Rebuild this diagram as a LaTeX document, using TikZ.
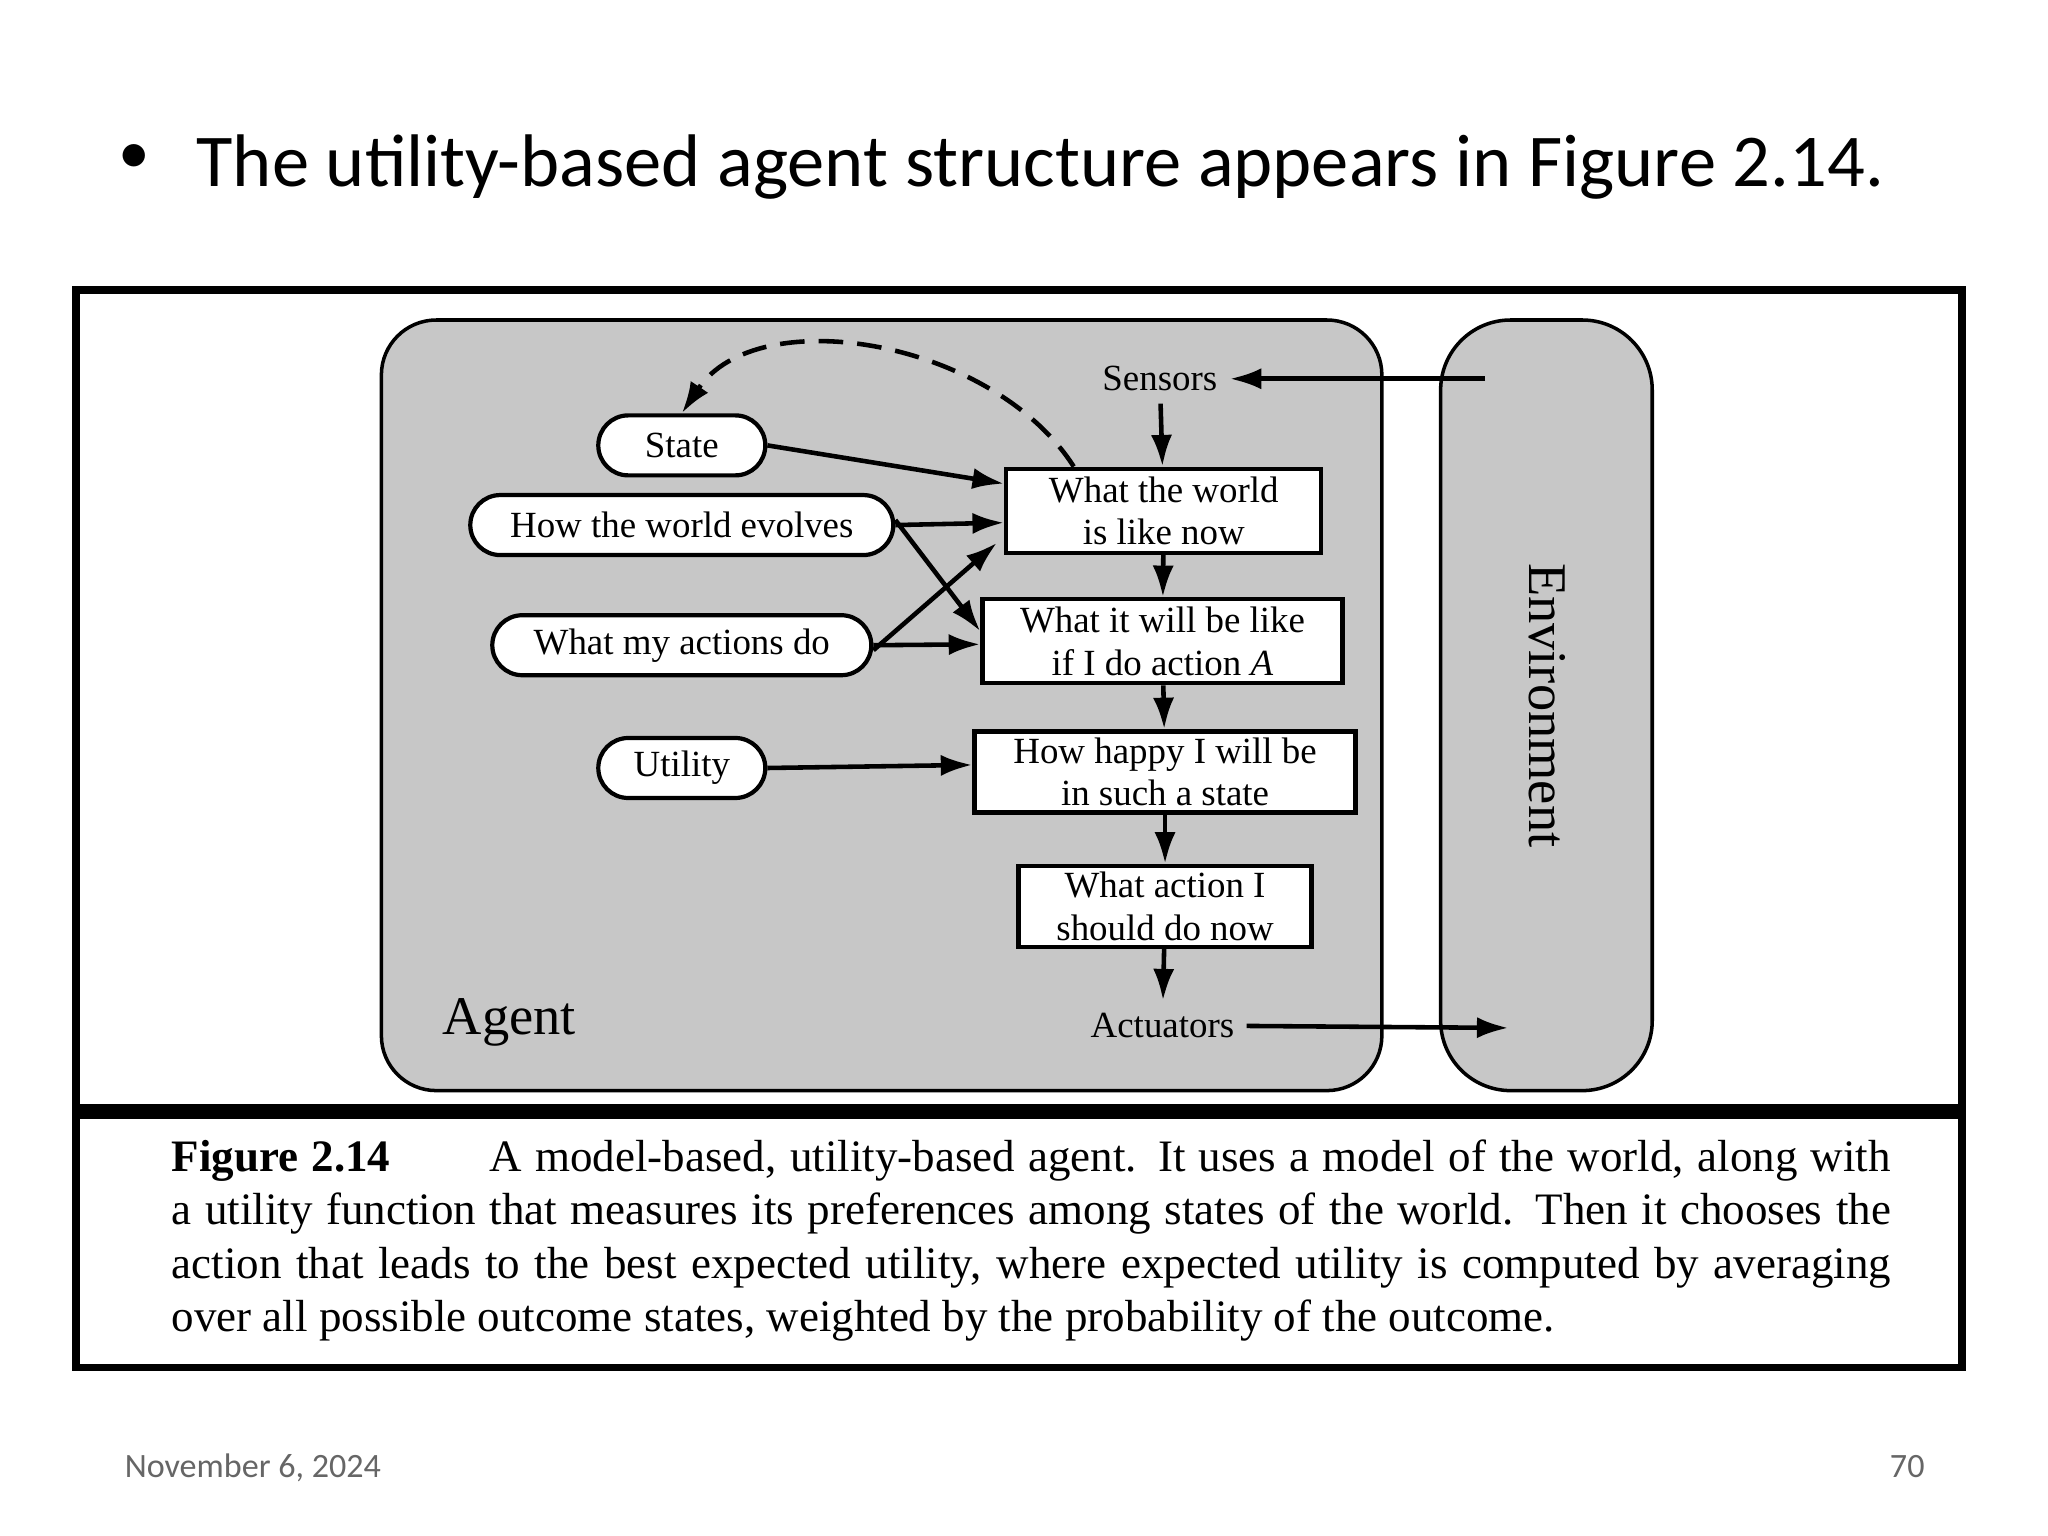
\documentclass[tikz,border=0pt]{standalone}
\usepackage{fontspec}
\setmainfont{Liberation Serif}
\newfontfamily\calfont{Carlito}
\usetikzlibrary{arrows.meta,calc}
\begin{document}
\begin{tikzpicture}[x=0.01306cm,y=-0.01306cm,
  lab/.style={font=\fontsize{10.5}{11}\selectfont},
  pill/.style={draw,line width=1.2pt,fill=white,rounded corners=0.3cm,minimum height=0.6cm,inner sep=1pt,font=\fontsize{10.5}{11}\selectfont},
  box/.style={draw,line width=1.2pt,fill=white,align=center,inner sep=1pt,font=\fontsize{10.5}{12}\selectfont},
  arr/.style={-{Latex[length=9pt,width=6pt]},line width=1.3pt}]
\useasboundingbox (0,0) rectangle (1568,1176);
\fill[white] (0,0) rectangle (1568,1176);
\node[font=\calfont\fontsize{18}{20}\selectfont] (bul) at (103,122) {\textbullet};
\node[font=\calfont\fontsize{21.2}{26}\selectfont,anchor=base west,inner sep=0pt] (title) at (150,143) {The utility-based agent structure appears in Figure 2.14.};
\draw[line width=2.2pt] (58,222) rectangle (1502,1047);
\draw[line width=4pt] (58,851) -- (1502,851);
\draw[line width=1pt,fill=black!22,rounded corners=0.55cm] (292,245) rectangle (1058,835);
\draw[line width=1pt,fill=black!22,rounded corners=0.7cm] (1103,245) rectangle (1265,835);
\node[rotate=-90,font=\fontsize{15.5}{18}\selectfont] (env) at (1185,540) {Environment};
\node[font=\fontsize{15.5}{18}\selectfont] (agent) at (390,783) {Agent};
\node[lab] (sens) at (888,290) {Sensors};
\node[lab] (act) at (890,785) {Actuators};
\coordinate (ein) at (1137,290);
\coordinate (eout) at (1155,787);
\node[box,minimum width=3.15cm,minimum height=0.84cm] (b1) at (891,391) {What the world\\is like now};
\node[box,minimum width=3.6cm,minimum height=0.84cm] (b2) at (890,491) {What it will be like\\if I do action \textit{A}};
\node[box,minimum width=3.81cm,minimum height=0.81cm] (b3) at (892,591) {How happy I will be\\in such a state};
\node[box,minimum width=2.93cm,minimum height=0.81cm] (b4) at (892,694) {What action I\\should do now};
\node[pill,minimum width=1.67cm] (st) at (522,341) {State};
\node[pill,minimum width=4.23cm] (ev) at (522,402) {How the world evolves};
\node[pill,minimum width=3.79cm] (ad) at (522,494) {What my actions do};
\node[pill,minimum width=1.67cm] (ut) at (522,588) {Utility};
\draw[arr] (ein) -- (sens);
\draw[arr] (sens) -- (b1);
\draw[arr] (b1) -- (b2);
\draw[arr] (b2) -- (b3);
\draw[arr] (b3) -- (b4);
\draw[arr] (b4) -- (act);
\draw[arr] (act) -- (eout);
\draw[arr] (st.east) -- ([yshift=0.27cm]b1.west);
\draw[arr] (ev.east) -- ([yshift=-0.12cm]b1.west);
\draw[arr] ([yshift=0.05cm]ev.east) -- ([yshift=0.1cm]b2.west);
\draw[arr] ([yshift=-0.05cm]ad.east) -- ([yshift=-0.32cm,xshift=-2pt]b1.west);
\draw[arr] (ad.east) -- ([yshift=-0.03cm]b2.west);
\draw[arr] (ut.east) -- ([yshift=0.07cm]b3.west);
\draw[arr,dashed,dash pattern=on 7pt off 4pt] ([xshift=-0.9cm]b1.north) .. controls (760,260) and (580,230) .. (st.north);
\node[anchor=north west,text width=17.19cm,align=justify,font=\fontsize{12.8}{15.2}\selectfont,inner sep=0pt] (cap) at (131,872)
{\textbf{Figure 2.14}\hspace{2.2em}A model-based, utility-based agent. It uses a model of the world, along with a utility function that measures its preferences among states of the world. Then it chooses the action that leads to the best expected utility, where expected utility is computed by averaging over all possible outcome states, weighted by the probability of the outcome.};
\node[anchor=base west,font=\calfont\fontsize{9.7}{12}\selectfont,text=black!60,inner sep=0pt] (date) at (95,1131) {November 6, 2024};
\node[anchor=base east,font=\calfont\fontsize{9.7}{12}\selectfont,text=black!60,inner sep=0pt] (pg) at (1474,1131) {70};
\end{tikzpicture}
\end{document}
